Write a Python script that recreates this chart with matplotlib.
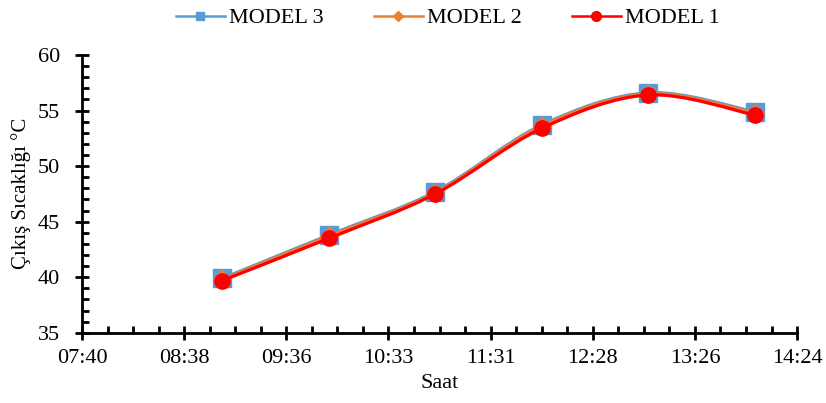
import matplotlib
matplotlib.use('Agg')
import matplotlib.pyplot as plt
from matplotlib.path import Path
from matplotlib.patches import PathPatch
from matplotlib.lines import Line2D
from matplotlib.ticker import MultipleLocator, FuncFormatter
import numpy as np

plt.rcParams['font.family'] = ['Liberation Serif', 'DejaVu Serif']

# saatler ve model sonuçları
saatler = ['09:00', '10:00', '11:00', '12:00', '13:00', '14:00']
model_1 = [39.7, 43.5, 47.5, 53.4, 56.4, 54.6]
model_2 = [39.8, 43.7, 47.6, 53.6, 56.5, 54.8]
model_3 = [39.9, 43.8, 47.7, 53.7, 56.6, 54.9]


def saat_to_gun(s):
    h, m = s.split(':')
    return (int(h) * 60 + int(m)) / 1440.0


def gun_to_saat(v, pos=None):
    dak = int(v * 1440 + 1e-6)
    return '%02d:%02d' % (dak // 60, dak % 60)


def smooth_path(x, y):
    # Excel tarzı yumuşatılmış çizgi (Bezier kontrol noktaları)
    p = np.column_stack([x, y])
    pp = np.vstack([p[0], p, p[-1]])
    verts = [p[0]]
    codes = [Path.MOVETO]
    for i in range(len(p) - 1):
        c1 = pp[i + 1] + (pp[i + 2] - pp[i]) / 6.0
        c2 = pp[i + 2] - (pp[i + 3] - pp[i + 1]) / 6.0
        verts += [c1, c2, pp[i + 2]]
        codes += [Path.CURVE4] * 3
    return Path(verts, codes)


x = np.array([saat_to_gun(s) for s in saatler])

fig = plt.figure(figsize=(8.26, 4.03), dpi=100)
ax = fig.add_axes([0.0993, 0.1744, 0.8657, 0.6891])

seriler = [
    ('MODEL 3', model_3, '#5B9BD5', 's', 13, 6),
    ('MODEL 2', model_2, '#ED7D31', 'D', 9, 5),
    ('MODEL 1', model_1, '#FF0000', 'o', 11, 7),
]

handles = []
for i, (ad, y, renk, mk, ms, ms_leg) in enumerate(seriler):
    patch = PathPatch(smooth_path(x, np.array(y)), facecolor='none',
                      edgecolor=renk, lw=2.3, zorder=2 + i * 2)
    ax.add_patch(patch)
    ax.plot(x, y, ls='none', marker=mk, ms=ms, color=renk,
            markeredgecolor=renk, zorder=3 + i * 2)
    handles.append(Line2D([], [], color=renk, lw=1.8, marker=mk,
                          ms=ms_leg))

ax.set_xlim(0.32, 0.60)
ax.set_ylim(35, 60)
ax.xaxis.set_major_locator(MultipleLocator(0.04))
ax.xaxis.set_minor_locator(MultipleLocator(0.01))
ax.xaxis.set_major_formatter(FuncFormatter(gun_to_saat))
ax.yaxis.set_major_locator(MultipleLocator(5))
ax.yaxis.set_minor_locator(MultipleLocator(1))

for s in ['top', 'right']:
    ax.spines[s].set_visible(False)
for s in ['left', 'bottom']:
    ax.spines[s].set_linewidth(2)
    ax.spines[s].set_color('black')

ax.tick_params(which='major', direction='inout', length=10, width=2,
               labelsize=16)
ax.tick_params(which='minor', direction='in', length=5, width=2)
ax.tick_params(axis='x', which='major', pad=7)
ax.tick_params(axis='y', which='major', pad=11)

ax.set_xlabel('Saat', fontsize=16, va='top')
ax.xaxis.set_label_coords(0.5, -0.150)
ax.set_ylabel('Çıkış Sıcaklığı °C', fontsize=15)
ax.yaxis.set_label_coords(-0.071, 0.5)

fig.legend(handles, [s[0] for s in seriler], loc='upper center',
           bbox_to_anchor=(0.542, 1.03), ncol=3, frameon=False,
           fontsize=16, handlelength=2.2, columnspacing=2.27,
           handletextpad=0.18)

fig.savefig('out.png', dpi=100)
